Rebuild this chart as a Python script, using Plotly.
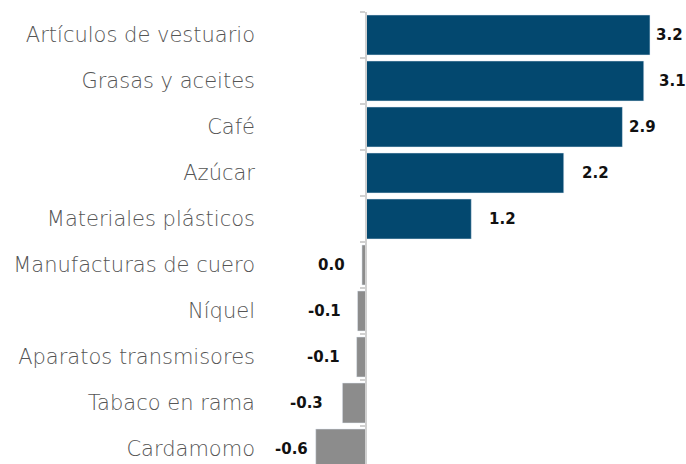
import plotly.graph_objects as go

categories = ["Artículos de vestuario", "Grasas y aceites", "Café", "Azúcar",
              "Materiales plásticos", "Manufacturas de cuero", "Níquel",
              "Aparatos transmisores", "Tabaco en rama", "Cardamomo"]
values = [3.20, 3.13, 2.89, 2.23, 1.19, -0.04, -0.09, -0.10, -0.26, -0.56]
value_labels = ["3.2", "3.1", "2.9", "2.2", "1.2", "0.0", "-0.1", "-0.1", "-0.3", "-0.6"]

BLUE = "#03486F"
GRAY = "#8C8C8C"
colors = [BLUE if v > 0 else GRAY for v in values]
gaps = [4, 13, 5, 16, 16, 15, 15, 15, 17, 6]

W, H = 686, 464
L, R, T = 262, 686, 12
zero_px = 365.5
px_per_unit = 88.9
xmin = (L - zero_px) / px_per_unit
xmax = (R - zero_px) / px_per_unit
pitch = 46
ybottom = -0.5 + (H - T) / pitch

fig = go.Figure()
fig.add_trace(go.Bar(
    x=values, y=categories, orientation="h", width=0.87,
    marker=dict(color=colors, line=dict(width=0)),
    hoverinfo="skip", showlegend=False, yaxis="y"))
# invisible trace to carry the axis line/ticks at zero
fig.add_trace(go.Bar(
    x=values, y=categories, orientation="h", width=0.87,
    marker=dict(color="rgba(0,0,0,0)"), hoverinfo="skip",
    showlegend=False, yaxis="y2"))

for cat, v, lab, g in zip(categories, values, value_labels, gaps):
    fig.add_annotation(
        x=v, y=cat, yref="y", text=lab, showarrow=False,
        xanchor="left" if v > 0 else "right", xshift=g if v > 0 else -g,
        font=dict(family="DejaVu Sans", size=15, color="#111111", weight="bold"))

fig.update_layout(
    width=W, height=H,
    margin=dict(l=L, r=W - R, t=T, b=0, pad=0),
    plot_bgcolor="white", paper_bgcolor="white",
    xaxis=dict(range=[xmin, xmax], visible=False, showgrid=False, zeroline=False),
    yaxis=dict(type="category", categoryorder="array", categoryarray=categories,
               range=[ybottom, -0.5], showgrid=False, showline=False, ticks="",
               ticklabelstandoff=6, automargin=False,
               tickfont=dict(family="DejaVu Sans", size=21, color="#555555", weight=300)),
    yaxis2=dict(type="category", categoryorder="array", categoryarray=categories,
                range=[ybottom, -0.5], overlaying="y", anchor="free",
                position=(zero_px - L) / (R - L), side="left", automargin=False,
                showgrid=False, showticklabels=False, showline=True,
                linecolor="#D0D0D0", linewidth=1.5, ticks="outside",
                tickson="boundaries", ticklen=5, tickcolor="#D0D0D0", tickwidth=1.5),
)

fig.write_html("out.html", config={"displayModeBar": False},
               post_script="document.body.style.margin='0';")
